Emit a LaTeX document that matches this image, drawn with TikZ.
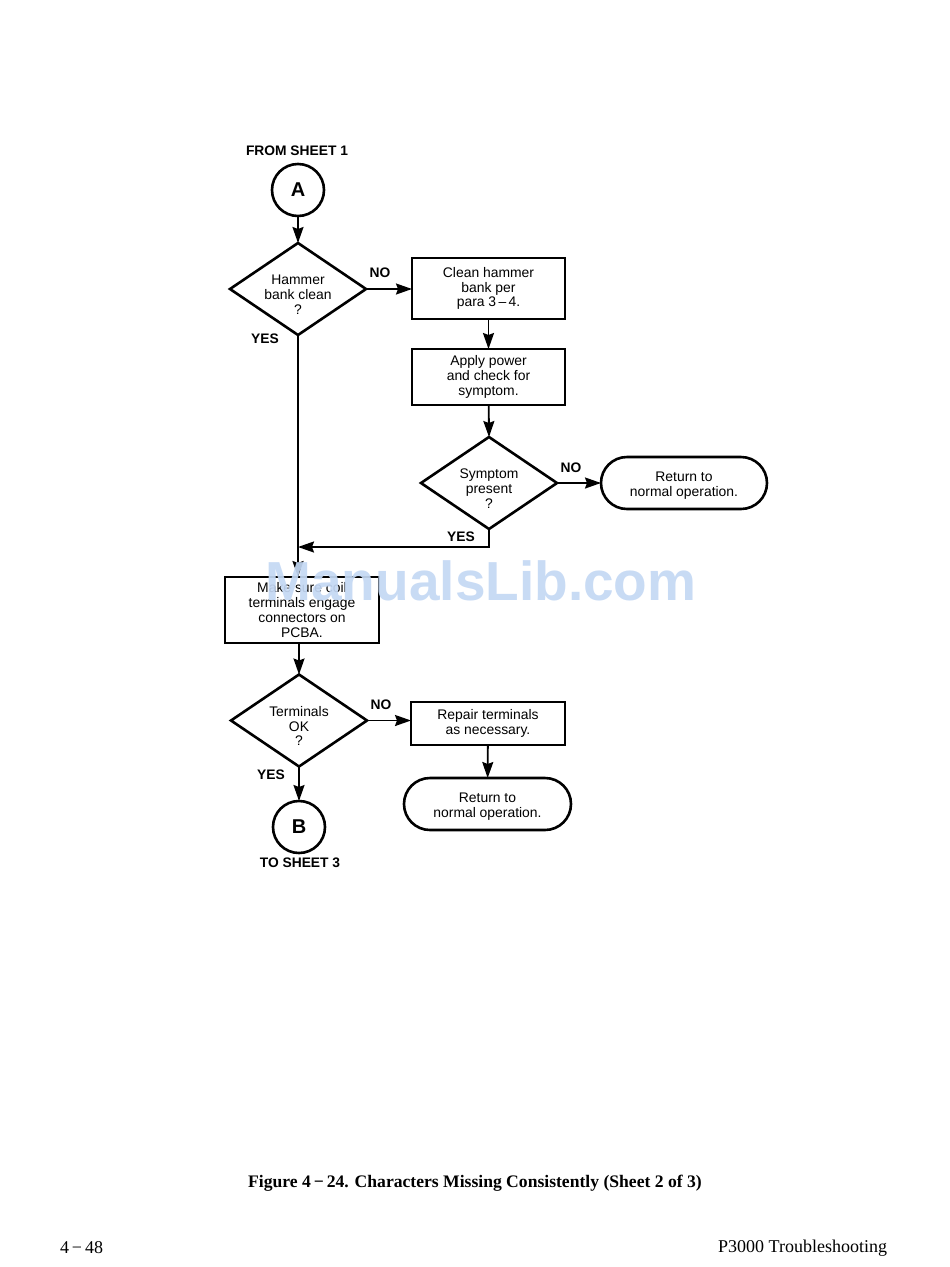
\documentclass[tikz,border=0pt]{standalone}
\usepackage{fontspec}
\setmainfont{Liberation Sans}
\newfontfamily\serifcap{Liberation Serif}
\usetikzlibrary{shapes.geometric,arrows.meta}
\begin{document}
\begin{tikzpicture}[x=1pt,y=-1pt,
  every node/.style={inner sep=0pt,outer sep=0pt},
  boxtxt/.style={font=\fontsize{13.9}{14.8}\selectfont,align=center},
  lbl/.style={font=\fontsize{13.8}{14}\selectfont\bfseries},
  proc/.style={draw,line width=2.6pt,rectangle,boxtxt,minimum width=153pt},
  term/.style={draw,line width=2.6pt,rectangle,rounded corners=26pt,boxtxt,minimum height=52pt},
  dia/.style={draw,line width=2.6pt,diamond,minimum width=136pt,minimum height=92pt},
  intxt/.style={boxtxt,yshift=-5.5pt},
  termtxt/.style={boxtxt,yshift=-2.5pt},
  conn/.style={draw,line width=2.6pt,circle,minimum size=52pt,font=\fontsize{20}{20}\selectfont\bfseries},
  arr/.style={line width=1.8pt,-{Stealth[length=16pt,width=11pt,inset=2pt]}}
]
\useasboundingbox (0,0) rectangle (950,1267);
\fill[white] (0,0) rectangle (950,1267);

\node[lbl] (from) at (297,151) {FROM SHEET 1};
\node[conn] (A) at (298,190) {A};
\node[dia,label={[intxt]center:Hammer\\bank clean\\?}] (d1) at (298,289) {};
\node[proc,minimum height=61pt] (b1) at (488.5,288.5) {Clean hammer\\bank per\\para 3\,\textendash\,4.};
\node[proc,minimum height=56pt] (b2) at (488.5,377) {\raisebox{-2pt}{\parbox{150pt}{\centering Apply power\\and check for\\symptom.}}};
\node[dia,label={[intxt]center:Symptom\\present\\?}] (d2) at (489,483) {};
\node[term,minimum width=166pt,label={[termtxt]center:Return to\\normal operation.}] (t1) at (684,483) {};
\coordinate (j) at (298,547);
\node[proc,minimum width=154pt,minimum height=66pt] (b3) at (302,610) {Make sure coil\\terminals engage\\connectors on\\PCBA.};
\node[dia,label={[intxt]center:Terminals\\OK\\?}] (d3) at (299,720.5) {};
\node[proc,minimum width=154pt,minimum height=43pt] (b4) at (488,723.5) {Repair terminals\\as necessary.};
\node[term,minimum width=167pt,label={[termtxt]center:Return to\\normal operation.}] (t2) at (487.5,804) {};
\node[conn] (B) at (299,827) {B};
\node[lbl] (to) at (300,863) {TO SHEET 3};

\node[lbl] (no1) at (380,273) {NO};
\node[lbl] (yes1) at (265,339) {YES};
\node[lbl] (no2) at (571,468) {NO};
\node[lbl] (yes2) at (461,537) {YES};
\node[lbl] (no3) at (381,705) {NO};
\node[lbl] (yes3) at (271,775) {YES};

\draw[arr] (A) -- (d1.north);
\draw[arr] (d1.east) -- (b1.west |- d1.east);
\draw[arr] (b1) -- (b2);
\draw[arr] (b2) -- (d2.north);
\draw[arr] (d2.east) -- (t1.west);
\draw[arr] (d2.south) |- (j);
\draw[arr] (d1.south) -- (d1.south |- b3.north);
\draw[arr] (d3.north |- b3.south) -- (d3.north);
\draw[arr] (d3.east) -- (b4.west |- d3.east);
\draw[arr] (b4) -- (t2);
\draw[arr] (d3.south) -- (B);

\node[font=\fontsize{55}{55}\selectfont\bfseries,text={rgb,255:red,196;green,216;blue,244},opacity=0.92] (wm) at (481,581) {ManualsLib.com};

\node[font=\serifcap\fontsize{17.6}{17.6}\selectfont\bfseries] (cap) at (475,1183) {Figure 4\,\textminus\,24. Characters Missing Consistently (Sheet 2 of 3)};
\node[font=\serifcap\fontsize{18}{18}\selectfont,anchor=west] (pg) at (60,1248) {4\,\textminus\,48};
\node[font=\serifcap\fontsize{18}{18}\selectfont,anchor=east] (tt) at (887,1248) {P3000 Troubleshooting};
\end{tikzpicture}
\end{document}
